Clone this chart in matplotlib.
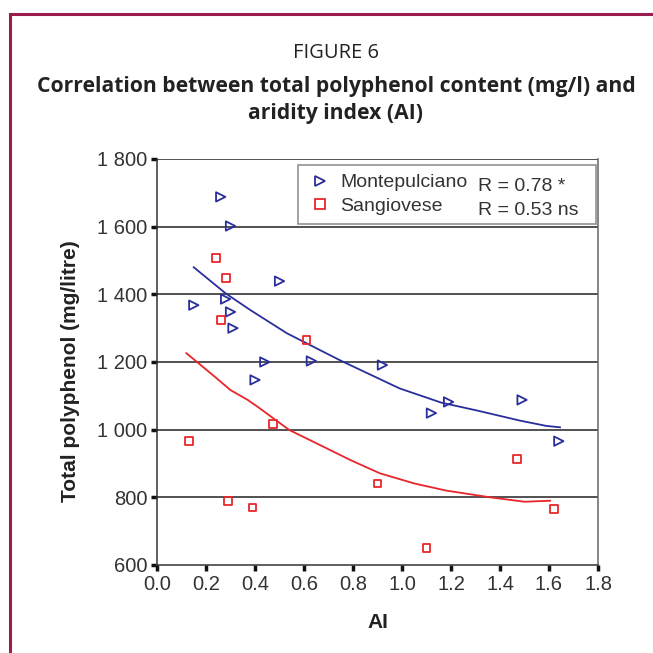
import matplotlib
matplotlib.use("Agg")
import matplotlib.pyplot as plt
from matplotlib.lines import Line2D
from matplotlib.patches import Rectangle
from matplotlib.ticker import FuncFormatter

# Data
monte_ai = [0.26, 0.30, 0.15, 0.28, 0.30, 0.31, 0.50, 0.44, 0.40, 0.63, 0.92, 1.12, 1.19, 1.49, 1.64]
monte_tp = [1688, 1602, 1368, 1386, 1348, 1300, 1439, 1200, 1147, 1203, 1191, 1049, 1082, 1088, 966]

sangio_ai = [0.24, 0.28, 0.26, 0.61, 0.13, 0.475, 0.29, 0.39, 0.90, 1.47, 1.62, 1.10]
sangio_tp = [1507, 1448, 1324, 1265, 966, 1018, 790, 770, 841, 913, 766, 651]

# Trend lines
monte_fit_x = [0.15, 0.28, 0.38, 0.53, 0.75, 0.99, 1.16, 1.31, 1.48, 1.59, 1.645]
monte_fit_y = [1480, 1403, 1354, 1285, 1204, 1122, 1080, 1056, 1027, 1011, 1007]

sangio_fit_x = [0.12, 0.24, 0.30, 0.37, 0.41, 0.54, 0.65, 0.79, 0.91, 1.05, 1.18, 1.36, 1.50, 1.605]
sangio_fit_y = [1226, 1154, 1117, 1088, 1068, 999, 960, 910, 871, 841, 820, 800, 787, 790]

x_ticks = [0.0, 0.2, 0.4, 0.6, 0.8, 1.0, 1.2, 1.4, 1.6, 1.8]
y_ticks = [600, 800, 1000, 1200, 1400, 1600, 1800]

series_names = ["Montepulciano", "Sangiovese"]
r_labels = ["R = 0.78 *", "R = 0.53 ns"]

title_top = "FIGURE 6"
title_main = "Correlation between total polyphenol content (mg/l) and\naridity index (AI)"

BLUE = "#2a2e9a"
RED = "#e8262a"
MAROON = "#9b1c4e"

plt.rcParams['font.family'] = ['Liberation Sans', 'DejaVu Sans']

fig = plt.figure(figsize=(6.53, 6.53), dpi=100)
fig.patch.set_facecolor("white")

# Maroon frame (partially off-canvas)
fig.patches.append(Rectangle((10/653, -0.1), 1.2, 1 - 14/653 + 0.1,
                             transform=fig.transFigure, fill=False,
                             edgecolor=MAROON, linewidth=2.2))

title_x = 336/653
fig.text(title_x, 1 - 53/653, title_top, ha="center", va="center",
         fontsize=14.5, family=['Open Sans', 'DejaVu Sans'], color="#222222")
fig.text(title_x, 1 - 100/653, title_main, ha="center", va="center",
         fontsize=15.2, fontweight="bold", family=['Open Sans', 'DejaVu Sans'],
         color="#222222", linespacing=1.33)

ax = fig.add_axes([157/653, 1 - 565/653, 441/653, 406/653])
ax.set_xlim(0, 1.8)
ax.set_ylim(600, 1800)

for y in y_ticks[1:]:
    ax.axhline(y, color="#222222", linewidth=1.1, zorder=1)

ax.plot(monte_fit_x, monte_fit_y, color=BLUE, linewidth=1.3, zorder=3)
ax.plot(sangio_fit_x, sangio_fit_y, color=RED, linewidth=1.3, zorder=3)

ax.scatter(monte_ai, monte_tp, marker=">", s=45, facecolors="none",
           edgecolors=BLUE, linewidths=1.3, zorder=4)
ax.scatter(sangio_ai, sangio_tp, marker="s", s=32, facecolors="none",
           edgecolors=RED, linewidths=1.3, zorder=4)

ax.set_xticks(x_ticks)
ax.set_yticks(y_ticks)
ax.xaxis.set_major_formatter(FuncFormatter(lambda v, p: f"{v:.1f}"))
ax.yaxis.set_major_formatter(FuncFormatter(lambda v, p: f"{int(v):,}".replace(",", " ")))
ax.tick_params(axis="both", direction="out", length=4, width=2.5, colors="#111111",
               labelsize=14.5, labelcolor="#333333", pad=3)

ax.spines["top"].set_visible(False)
ax.spines["right"].set_color("#666666")
ax.spines["left"].set_color("#333333")
ax.spines["bottom"].set_color("#333333")
for s in ax.spines.values():
    s.set_linewidth(1.1)

ax.set_xlabel("AI", fontsize=15, fontweight="bold", color="#222222", labelpad=14)
ax.set_ylabel("Total polyphenol (mg/litre)", fontsize=15, fontweight="bold",
              color="#222222")
ax.yaxis.set_label_coords(-0.174, 0.478)

handles = [Line2D([], [], marker=">", linestyle="none", markerfacecolor="none",
                  markeredgecolor=BLUE, markersize=7, markeredgewidth=1.3),
           Line2D([], [], marker="s", linestyle="none", markerfacecolor="none",
                  markeredgecolor=RED, markersize=6.5, markeredgewidth=1.3)]
leg = ax.legend(handles, series_names,
                loc="upper left", bbox_to_anchor=(0.32, 0.847, 0.675, 0.138),
                mode="expand", fontsize=14, frameon=True, fancybox=False,
                edgecolor="#777777", borderpad=0.45, handletextpad=0.4,
                labelspacing=0.32, handlelength=1.3, borderaxespad=0)
leg.get_frame().set_linewidth(1.2)
leg.set_zorder(5)
for txt in leg.get_texts():
    txt.set_color("#333333")
for txt, yy in zip(r_labels, [0.932, 0.872]):
    ax.text(0.728, yy, txt, transform=ax.transAxes, fontsize=14, color="#333333",
            va="center", ha="left", zorder=6)

fig.savefig("out.png", dpi=100)
